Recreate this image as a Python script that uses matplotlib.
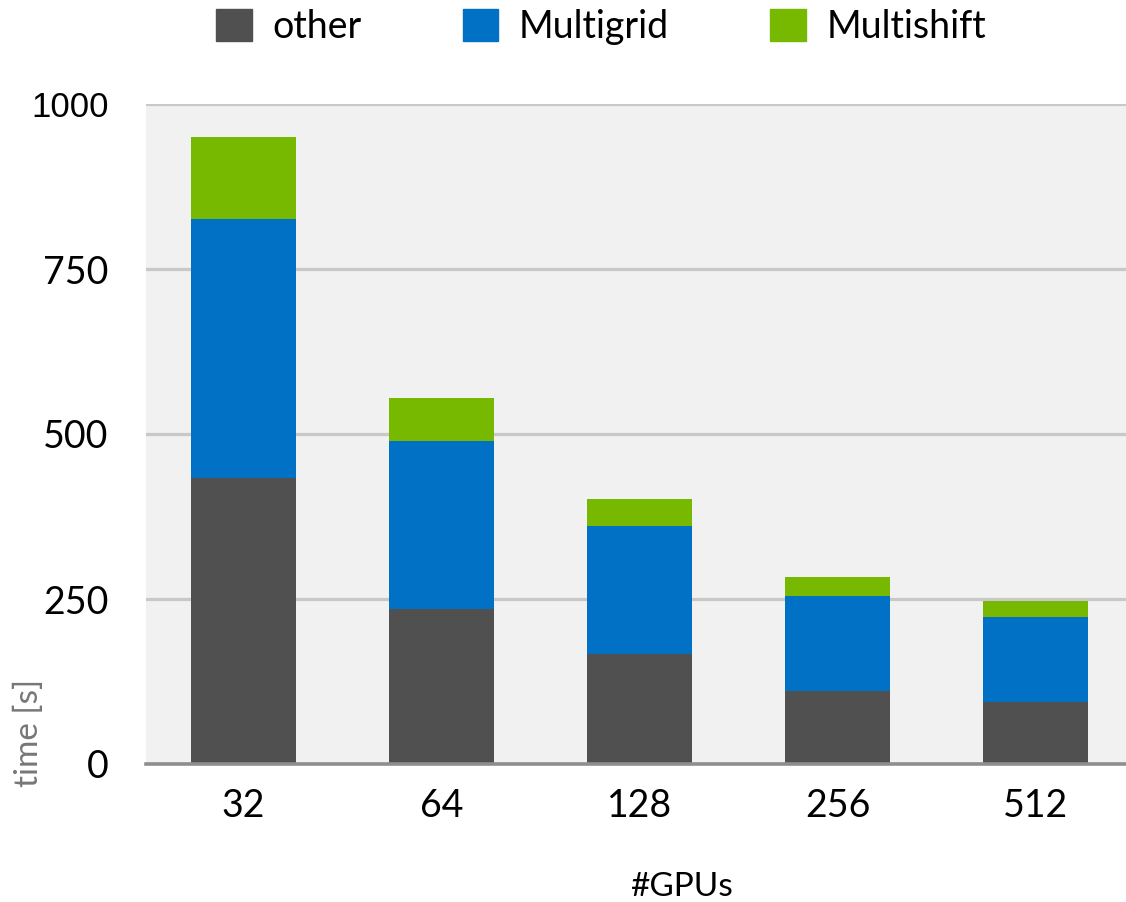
import matplotlib
matplotlib.use("Agg")
import matplotlib.pyplot as plt
from matplotlib.patches import Patch
import numpy as np

# timings per run, split by solver component
gpus = ["32", "64", "128", "256", "512"]
other = [433, 235, 167, 111, 94]
multigrid = [393, 254, 194, 144, 129]
multishift = [124, 66, 40, 28, 24]
yticks = [0, 250, 500, 750, 1000]

c_other = "#505050"
c_mg = "#0071c5"
c_ms = "#76b900"

plt.rcParams['font.family'] = ['Lato', 'DejaVu Sans']

fig = plt.figure(figsize=(11.26, 9.02), dpi=100)
ax = fig.add_axes([146/1126, 138/902, 980/1126, 660/902])
ax.set_facecolor("#f1f1f1")

x = np.arange(len(gpus))
w = 0.53
b1 = np.array(other)
b2 = b1 + np.array(multigrid)
ax.bar(x, other, w, color=c_other, zorder=3)
ax.bar(x, multigrid, w, bottom=b1, color=c_mg, zorder=3)
ax.bar(x, multishift, w, bottom=b2, color=c_ms, zorder=3)

ax.set_xlim(-0.49, 4.455)
ax.set_ylim(0, 1000)
ax.set_yticks(yticks)
ax.set_yticklabels([str(v) for v in yticks])
ax.set_xticks(x)
ax.set_xticklabels(gpus)
ax.yaxis.grid(True, color="#c8c8c8", linewidth=2.3, zorder=1)
ax.set_axisbelow(True)
for s in ["top", "right", "left"]:
    ax.spines[s].set_visible(False)
ax.spines["bottom"].set_color("#8e8e8e")
ax.spines["bottom"].set_linewidth(2.6)
ax.spines["bottom"].set_zorder(4)
ax.tick_params(axis="both", length=0, labelsize=27, colors="black")
ax.tick_params(axis="y", pad=27)
ax.tick_params(axis="x", pad=17)
top_lbl = ax.get_yticklabels()[-1]
top_lbl.set_fontfamily("Liberation Sans")
top_lbl.set_fontsize(25)

fig.text(681/1126, 1 - 887/902, "#GPUs", ha="center", va="center", fontsize=24)
fig.text(29/1126, 1 - 733/902, "time [s]", ha="center", va="center",
         rotation=90, fontsize=24, color="#777777")

handles = [Patch(color=c_other, label="other"),
           Patch(color=c_mg, label="Multigrid"),
           Patch(color=c_ms, label="Multishift")]
fig.legend(handles=handles, loc="center", bbox_to_anchor=(601/1126, 1 - 27/902),
           ncol=3, frameon=False, fontsize=27, handlelength=0.95, handleheight=0.95,
           handletextpad=0.55, columnspacing=2.7)

fig.savefig("out.png", dpi=100)
